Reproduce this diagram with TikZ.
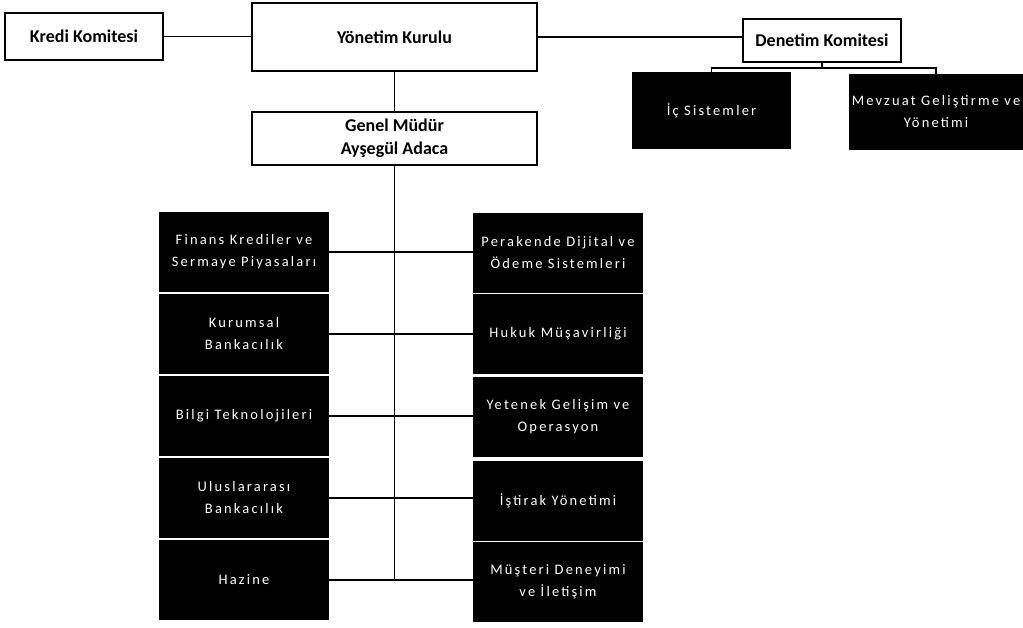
\documentclass[tikz,border=0pt]{standalone}
\usepackage{fontspec}
\setmainfont{Carlito}
\newfontfamily\lightfont[LetterSpace=15]{Carlito}
\begin{document}
\begin{tikzpicture}[x=1pt,y=-1pt,
  wbox/.style={draw=black,line width=1.3pt,fill=white,inner sep=0pt,align=center,font=\bfseries\fontsize{18}{23}\selectfont},
  bbox/.style={fill=black,text=white,inner sep=0pt,align=center,minimum width=170pt,minimum height=80pt,font=\lightfont\fontsize{14.5}{22}\selectfont},
  conn/.style={draw=black,line width=1.4pt}]
\useasboundingbox[fill=white] (0,0) rectangle (1023,627);
% top row
\node[wbox,minimum width=158pt,minimum height=47pt] (kk) at (84,36.5) {Kredi Komitesi};
\node[wbox,minimum width=285pt,minimum height=68pt] (yk) at (394.5,37) {Yönetim Kurulu};
\node[wbox,minimum width=158pt,minimum height=43pt] (dk) at (822,40.5) {Denetim Komitesi};
\node[wbox,minimum width=285pt,minimum height=53pt] (gm) at (394.5,138.5) {Genel Müdür\\Ayşegül Adaca};
% audit children
\node[bbox,minimum width=159pt,minimum height=77pt] (ic) at (711.5,110.5) {İç Sistemler};
\node[bbox,minimum width=174pt,minimum height=76pt] (mv) at (936,112) {Mevzuat Geliştirme ve\\Yönetimi};
% left column
\node[bbox] (l1) at (244,252) {Finans Krediler ve\\Sermaye Piyasaları};
\node[bbox] (l2) at (244,334) {Kurumsal\\Bankacılık};
\node[bbox] (l3) at (244,416) {Bilgi Teknolojileri};
\node[bbox] (l4) at (244,498) {Uluslararası\\Bankacılık};
\node[bbox] (l5) at (244,580) {Hazine};
% right column
\node[bbox] (r1) at (558,253) {Perakende Dijital ve\\Ödeme Sistemleri};
\node[bbox] (r2) at (558,334) {Hukuk Müşavirliği};
\node[bbox] (r3) at (558,416.5) {Yetenek Gelişim ve\\Operasyon};
\node[bbox] (r4) at (558,500.5) {İştirak Yönetimi};
\node[bbox] (r5) at (558,581.5) {Müşteri Deneyimi\\ve İletişim};
% connectors
\draw[conn] (kk.east) -- (kk.east -| yk.west);
\draw[conn] (yk.east) -- (yk.east -| dk.west);
\draw[conn] (yk.south) -- (gm.north);
\coordinate (dj) at (822,68);
\draw[conn] (dk.south) -- (dj);
\draw[conn] (dj) -| (ic.north);
\draw[conn] (dj) -| (mv.north);
\draw[conn] (gm.south) -- (gm.south |- l5.east);
\foreach \i in {1,...,5}{
  \draw[conn] (l\i.east) -- (l\i.east -| r\i.west);
}
\end{tikzpicture}
\end{document}
